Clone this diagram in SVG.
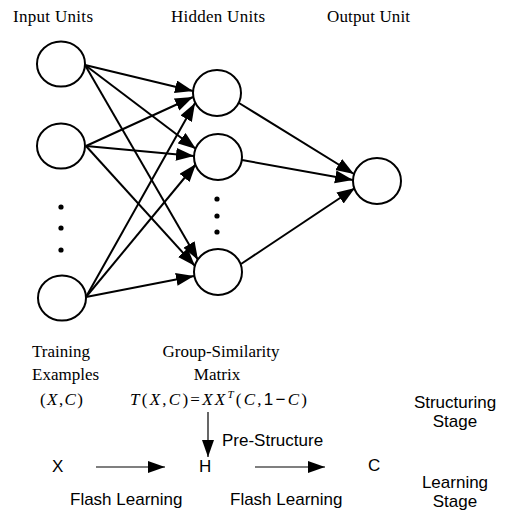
<svg xmlns="http://www.w3.org/2000/svg" width="507" height="512" viewBox="0 0 507 512">
<style>
.serif{font-family:"Liberation Serif","Times New Roman",serif;font-size:17px;fill:#000}
.sans{font-family:"Liberation Sans",Arial,sans-serif;font-size:17px;fill:#000}
.node{fill:#fff;stroke:#000;stroke-width:2}
.edge{stroke:#000;stroke-width:2;fill:none;marker-end:url(#ah)}
.thin{stroke:#000;stroke-width:1.2;fill:none;marker-end:url(#ah2)}
.dot{fill:#000}
</style>
<defs>
<marker id="ah" markerUnits="userSpaceOnUse" markerWidth="19" markerHeight="14" refX="18" refY="6.5" orient="auto">
<path d="M0,0 L18,6.5 L0,13 z" fill="#000"/>
</marker>
<marker id="ah2" markerUnits="userSpaceOnUse" markerWidth="18" markerHeight="14" refX="17" refY="6" orient="auto">
<path d="M0,0 L17,6 L0,12 z" fill="#000"/>
</marker>
</defs>

<g id="labels">
<text class="serif" x="13" y="22" textLength="80">Input Units</text>
<text class="serif" x="171" y="22" textLength="94">Hidden Units</text>
<text class="serif" x="327" y="22" textLength="83">Output Unit</text>
</g>

<g id="connectors">
<line class="edge" x1="85" y1="65" x2="193" y2="91"/>
<line class="edge" x1="85" y1="65" x2="196" y2="149"/>
<line class="edge" x1="85" y1="65" x2="198" y2="260"/>
<line class="edge" x1="86" y1="146" x2="193" y2="97"/>
<line class="edge" x1="86" y1="146" x2="194" y2="156"/>
<line class="edge" x1="86" y1="146" x2="195" y2="266"/>
<line class="edge" x1="86" y1="297" x2="195" y2="103"/>
<line class="edge" x1="86" y1="297" x2="196" y2="164"/>
<line class="edge" x1="86" y1="297" x2="194" y2="276"/>
<line class="edge" x1="239" y1="103" x2="354" y2="174"/>
<line class="edge" x1="242" y1="160" x2="353" y2="180"/>
<line class="edge" x1="241" y1="264" x2="355" y2="188"/>
<line class="thin" x1="208" y1="412" x2="208" y2="457"/>
<line class="thin" x1="96" y1="467" x2="165" y2="467"/>
<line class="thin" x1="255" y1="467" x2="325" y2="467"/>
</g>

<g id="input1"><ellipse class="node" cx="61" cy="64" rx="24" ry="22.5"/></g>
<g id="input2"><ellipse class="node" cx="61" cy="146" rx="24" ry="22.5"/></g>
<g id="input-dots"><circle class="dot" cx="61" cy="207" r="2.6"/><circle class="dot" cx="61" cy="228" r="2.6"/><circle class="dot" cx="61" cy="250" r="2.6"/></g>
<g id="input3"><ellipse class="node" cx="62" cy="298" rx="24" ry="22.5"/></g>

<g id="hidden1"><ellipse class="node" cx="217" cy="93" rx="24" ry="23"/></g>
<g id="hidden2"><ellipse class="node" cx="218" cy="157" rx="24" ry="23"/></g>
<g id="hidden-dots"><circle class="dot" cx="217" cy="199" r="2.6"/><circle class="dot" cx="217" cy="216" r="2.6"/><circle class="dot" cx="217" cy="232" r="2.6"/></g>
<g id="hidden3"><ellipse class="node" cx="218" cy="272" rx="24" ry="23"/></g>

<g id="output"><ellipse class="node" cx="377" cy="181" rx="24" ry="23"/></g>

<g id="training">
<text class="serif" x="32" y="357">Training</text>
<text class="serif" x="32" y="380">Examples</text>
<text class="serif" x="40" y="405" textLength="43">(<tspan font-style="italic">X</tspan>,<tspan font-style="italic">C</tspan>)</text>
</g>

<g id="matrix">
<text class="serif" x="221" y="357" text-anchor="middle">Group-Similarity</text>
<text class="serif" x="217" y="380" text-anchor="middle">Matrix</text>
<text class="serif" x="130" y="405" textLength="177" lengthAdjust="spacing"><tspan font-style="italic">T</tspan>(<tspan font-style="italic">X</tspan>,<tspan font-style="italic">C</tspan>)=<tspan font-style="italic">XX</tspan><tspan font-style="italic" font-size="11" dy="-7">T</tspan><tspan dy="7">(</tspan><tspan font-style="italic">C</tspan>,<tspan font-family="Liberation Sans, Arial, sans-serif">1−</tspan><tspan font-style="italic">C</tspan>)</text>
</g>

<g id="stages">
<text class="sans" x="455" y="408" text-anchor="middle">Structuring</text>
<text class="sans" x="455" y="427" text-anchor="middle">Stage</text>
<text class="sans" x="455" y="488" text-anchor="middle">Learning</text>
<text class="sans" x="455" y="507" text-anchor="middle">Stage</text>
</g>

<g id="flow">
<text class="sans" x="222" y="446">Pre-Structure</text>
<text class="sans" x="52" y="472">X</text>
<text class="sans" x="199" y="472">H</text>
<text class="sans" x="368" y="471">C</text>
<text class="sans" x="70" y="505">Flash Learning</text>
<text class="sans" x="230" y="505">Flash Learning</text>
</g>
</svg>
